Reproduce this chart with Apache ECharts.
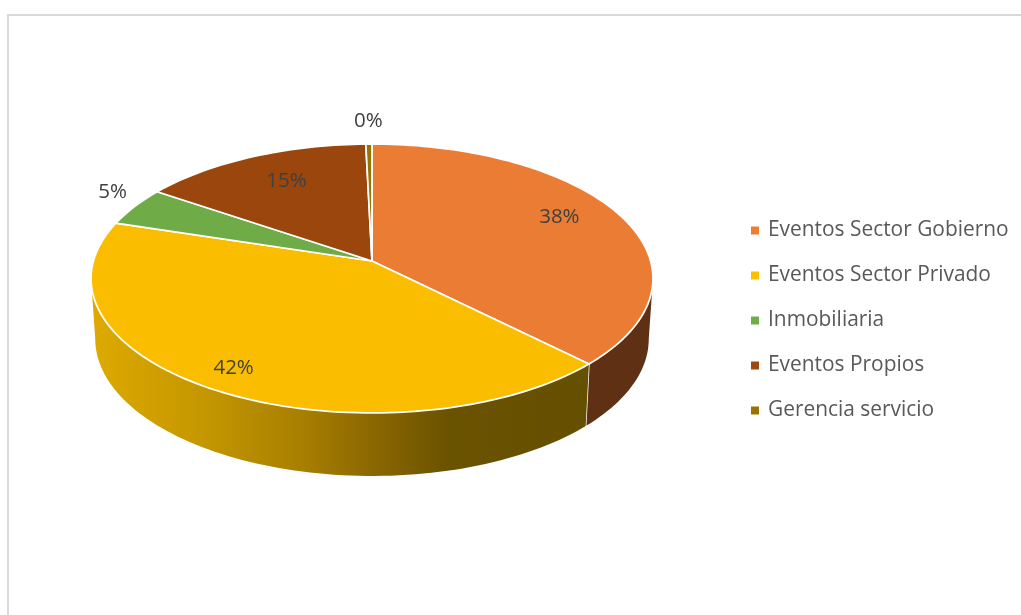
<!DOCTYPE html>
<html>
<head>
<meta charset="utf-8">
<style>
  html, body { margin: 0; padding: 0; background: #fff; }
  #chart { width: 1021px; height: 615px; }
</style>
<script src="https://cdn.jsdelivr.net/npm/echarts@6/dist/echarts.min.js"></script>
</head>
<body>
<div id="chart"></div>
<script>
const categories = ['Eventos Sector Gobierno', 'Eventos Sector Privado', 'Inmobiliaria', 'Eventos Propios', 'Gerencia servicio'];
const values = [37.5, 42.3, 4.7, 15.1, 0.4];
const sliceColors = ['#EB7C33', '#FBBD00', '#6FAC48', '#9A460C', '#997300'];
const legendColors = ['#ED7D31', '#FFC000', '#70AD47', '#9E480E', '#997300'];

// how far along its radius each label sits (1 = rim), and its turn off the slice middle in degrees
const labelRadius = [0.79, 0.855, 1.15, 0.744, 1.24];
const labelTurn = [-4.5, 0.6, 3.9, 2, 0];

// perspective disc: apex position, half sizes and tilt of the top face
const cx = 372, cy = 261, a = 278.6, b = 132.2, k = 0.13;
const depthScale = 0.985;

// the wall is only seen between the two points where the rim turns back
const wallFrom = Math.acos(-k) * 180 / Math.PI, wallTo = 360 - wallFrom;

function project(deg, r) {
    const t = deg * Math.PI / 180;
    const u = Math.sin(t) * r, v = -Math.cos(t) * r;
    const w = 1 - k * v;
    return [cx + a * u / w, cy + b * v / w];
}

// same point on the lower rim of the disc
function projectBottom(deg) {
    const p = project(deg, 1);
    const v = -Math.cos(deg * Math.PI / 180);
    return [cx + (p[0] - cx) * depthScale, p[1] + 60 + 3 * v];
}

function arcRange(from, to) {
    const pts = [];
    const steps = Math.max(2, Math.ceil((to - from) / 1.5));
    for (let i = 0; i <= steps; i++) pts.push(from + (to - from) * i / steps);
    return pts;
}

function wallFill(index) {
    if (index === 0) return '#5F3013';
    return new echarts.graphic.LinearGradient(95, 0, 587, 0, [
        { offset: 0, color: '#DDA900' },
        { offset: 0.21, color: '#C69800' },
        { offset: 0.42, color: '#A87F00' },
        { offset: 0.56, color: '#8C6800' },
        { offset: 0.72, color: '#6A5200' },
        { offset: 1, color: '#655000' }
    ], true);
}

function renderSlice(params, api) {
    const index = params.seriesIndex;
    const start = api.value(0), end = api.value(1), value = api.value(2);
    const from = start * 3.6, to = end * 3.6;
    const children = [];

    const wallA = Math.max(from, wallFrom), wallB = Math.min(to, wallTo);
    if (wallB > wallA) {
        const angles = arcRange(wallA, wallB);
        const points = angles.map(d => project(d, 1)).concat(angles.slice().reverse().map(projectBottom));
        children.push({ type: 'polygon', shape: { points: points }, style: { fill: wallFill(index) } });
    }

    const top = [[cx, cy]].concat(arcRange(from, to).map(d => project(d, 1)));
    children.push({
        type: 'polygon',
        shape: { points: top },
        style: { fill: sliceColors[index], stroke: '#fff', lineWidth: 1.75, lineJoin: 'round' }
    });

    // white seam where two walls meet
    if (to > wallFrom && to < wallTo) {
        const p1 = project(to, 1), p2 = projectBottom(to);
        children.push({
            type: 'line',
            shape: { x1: p1[0], y1: p1[1], x2: p2[0], y2: p2[1] },
            style: { stroke: '#fff', lineWidth: 1.5 }
        });
    }

    const pos = project((from + to) / 2 + labelTurn[index], labelRadius[index]);
    children.push({
        type: 'text',
        z2: 10,
        style: {
            x: pos[0], y: pos[1] + 1,
            text: Math.round(value) + '%',
            fill: '#404040',
            font: '20.5px "Open Sans"',
            align: 'center', verticalAlign: 'middle'
        }
    });
    return { type: 'group', children: children };
}

let running = 0;
const series = categories.map((name, i) => {
    const start = running;
    running += values[i];
    return {
        type: 'custom',
        name: name,
        coordinateSystem: 'none',
        silent: true,
        animation: false,
        itemStyle: { color: legendColors[i] },
        data: [[start, running, values[i]]],
        renderItem: renderSlice
    };
});

const chart = echarts.init(document.getElementById('chart'), null, { renderer: 'canvas' });
chart.setOption({
    backgroundColor: '#fff',
    animation: false,
    graphic: [{
        type: 'rect',
        silent: true,
        shape: { x: 8, y: 15, width: 1100, height: 700 },
        style: { fill: 'none', stroke: '#D9D9D9', lineWidth: 2 }
    }],
    legend: {
        orient: 'vertical',
        left: 751,
        top: 219,
        icon: 'rect',
        itemWidth: 8,
        itemHeight: 8,
        itemGap: 22,
        data: categories,
        selectedMode: false,
        padding: 0,
        textStyle: {
            color: '#595959',
            fontFamily: 'Open Sans',
            fontSize: 20.9,
            lineHeight: 23,
            padding: [0, 0, 0, 4]
        }
    },
    series: series
});
</script>
</body>
</html>
